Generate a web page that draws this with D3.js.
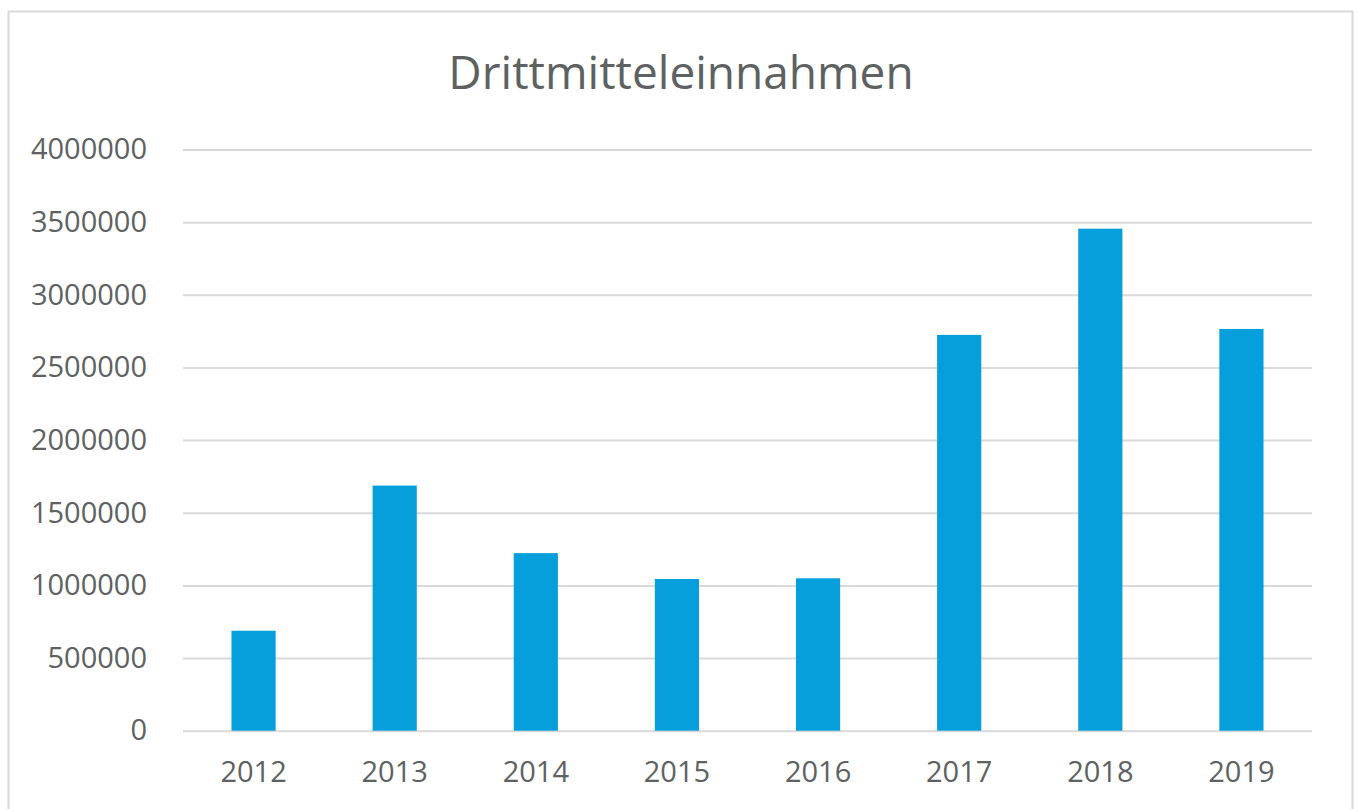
<!DOCTYPE html>
<html>
<head>
<meta charset="utf-8">
<script src="https://cdn.jsdelivr.net/npm/d3@7"></script>
<style>
    body { margin: 0; background: #fff; }
    svg { display: block; }
    .tick text { font-family: "Open Sans", sans-serif; fill: #5d6162; }
</style>
</head>
<body>
<div id="chart"></div>
<script>
// Chart data
const years = ['2012', '2013', '2014', '2015', '2016', '2017', '2018', '2019'];
const einnahmen = [688000, 1687000, 1222000, 1044000, 1049000, 2724000, 3455000, 2765000];
const yTicks = [0, 500000, 1000000, 1500000, 2000000, 2500000, 3000000, 3500000, 4000000];
const chartTitle = 'Drittmitteleinnahmen';

const width = 1359;
const height = 809;
const margin = { top: 149.5, right: 47, bottom: 78.3, left: 183 };

const svg = d3.select('#chart')
    .append('svg')
    .attr('width', width)
    .attr('height', height);

// outer chart frame
svg.append('rect')
    .attr('x', 8.5)
    .attr('y', 11.5)
    .attr('width', 1344)
    .attr('height', 820)
    .attr('fill', '#fff')
    .attr('stroke', '#d9d9d9')
    .attr('stroke-width', 2);

const x = d3.scaleBand()
    .domain(years)
    .range([margin.left, width - margin.right])
    .paddingInner(0.687)
    .paddingOuter(0.3435);

const y = d3.scaleLinear()
    .domain([0, 4000000])
    .range([height - margin.bottom, margin.top]);

// gridlines + y labels
const yAxis = svg.append('g')
    .attr('transform', `translate(${margin.left},0)`)
    .call(d3.axisLeft(y)
        .tickValues(yTicks)
        .tickFormat(d3.format('d'))
        .tickSize(-(width - margin.left - margin.right))
        .tickPadding(36));

yAxis.select('.domain').remove();
yAxis.selectAll('.tick line')
    .attr('stroke', '#d9d9d9')
    .attr('stroke-width', 2);
yAxis.selectAll('.tick text')
    .attr('font-size', 29);

// bars
svg.append('g')
    .selectAll('rect')
    .data(years)
    .enter().append('rect')
    .attr('x', d => x(d))
    .attr('y', (d, i) => y(einnahmen[i]))
    .attr('width', x.bandwidth())
    .attr('height', (d, i) => y(0) - y(einnahmen[i]))
    .attr('fill', '#079fdb');

// x axis labels
const xAxis = svg.append('g')
    .attr('transform', `translate(0,${height - margin.bottom})`)
    .call(d3.axisBottom(x).tickSize(0).tickPadding(31));

xAxis.select('.domain').remove();
xAxis.selectAll('.tick text')
    .attr('font-size', 29);

// title
svg.append('text')
    .attr('x', 681)
    .attr('y', 89)
    .attr('text-anchor', 'middle')
    .attr('font-family', '"Open Sans", sans-serif')
    .attr('font-size', 46)
    .attr('fill', '#5d6162')
    .text(chartTitle);
</script>
</body>
</html>
